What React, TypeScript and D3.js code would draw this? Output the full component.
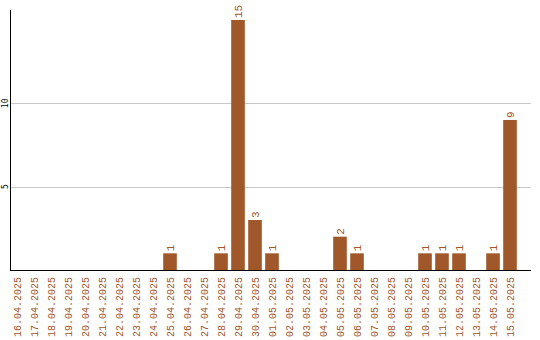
import React from "react";
import * as d3 from "d3";

const categories = [
  "16.04.2025","17.04.2025","18.04.2025","19.04.2025","20.04.2025","21.04.2025",
  "22.04.2025","23.04.2025","24.04.2025","25.04.2025","26.04.2025","27.04.2025",
  "28.04.2025","29.04.2025","30.04.2025","01.05.2025","02.05.2025","03.05.2025",
  "04.05.2025","05.05.2025","06.05.2025","07.05.2025","08.05.2025","09.05.2025",
  "10.05.2025","11.05.2025","12.05.2025","13.05.2025","14.05.2025","15.05.2025",
];
const values = [0,0,0,0,0,0,0,0,0,1,0,0,1,15,3,1,0,0,0,2,1,0,0,0,1,1,1,0,1,9];
const yTicks = [5, 10];

const W = 540, H = 340;
const COLOR = "#A0572A";
const FONT = "'Liberation Mono', monospace";
const YFONT = "'DejaVu Sans Mono', monospace";

export default function App() {
  const x = d3.scaleBand<string>().domain(categories).range([8.5, 518.5]).paddingInner(0.2).paddingOuter(0.1);
  const y = d3.scaleLinear().domain([0, 15]).range([270, 20]);
  const axisLeft = 11, axisRight = 531, base = y(0);
  return (
    <svg width={W} height={H} style={{ position: "absolute", left: 0, top: 0 }}>
      {yTicks.map((t) => (
        <g key={t}>
          <line x1={axisLeft} x2={axisRight} y1={Math.round(y(t)) + 0.5} y2={Math.round(y(t)) + 0.5} stroke="#c8c8c8" />
          <text transform={`translate(5,${y(t)}) rotate(-90)`} textAnchor="middle" dominantBaseline="central"
            fontFamily={YFONT} fontSize={8} fill="#000">{t}</text>
        </g>
      ))}
      {categories.map((c, i) => {
        const v = values[i];
        const bx = x(c)!;
        const bw = x.bandwidth();
        const cx = bx + bw / 2;
        return (
          <g key={c}>
            {v > 0 && (
              <>
                <rect x={bx} y={y(v)} width={bw} height={base - y(v)} fill={COLOR} />
                <text transform={`translate(${cx + 0.5},${y(v) - 2}) rotate(-90)`} textAnchor="start" dominantBaseline="central"
                  fontFamily={FONT} fontSize={11} fill={COLOR}>{v}</text>
              </>
            )}
            <text transform={`translate(${cx + 1},${base + 7}) rotate(-90)`} textAnchor="end" dominantBaseline="central"
              fontFamily={FONT} fontSize={10} fill={COLOR}>{c}</text>
          </g>
        );
      })}
      <line x1={axisLeft - 0.5} x2={axisLeft - 0.5} y1={10} y2={base + 1} stroke="#000" />
      <line x1={axisLeft - 1} x2={axisRight} y1={base + 0.5} y2={base + 0.5} stroke="#000" />
    </svg>
  );
}
